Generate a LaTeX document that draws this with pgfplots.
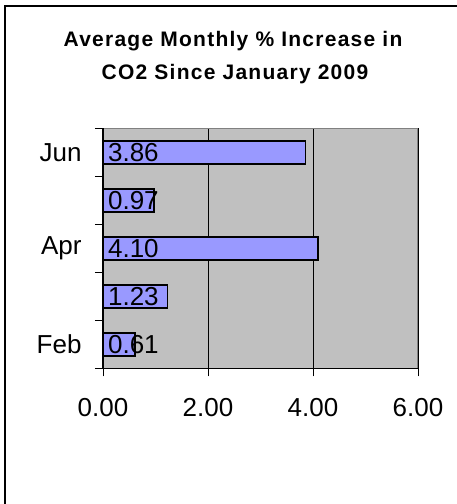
\documentclass[border=0pt]{standalone}
\usepackage{pgfplots}
\pgfplotsset{compat=1.18}
\usepackage{fontspec}
\setmainfont{Liberation Sans}

\definecolor{barblue}{HTML}{9999FF}
\definecolor{plotgray}{HTML}{C0C0C0}
\definecolor{edgegray}{HTML}{808080}

\pgfplotstableread{
pos val
1 0.61
2 1.23
3 4.10
4 0.97
5 3.86
}\datatable

\begin{document}
\begin{tikzpicture}
	\useasboundingbox (0pt,0pt) rectangle (457pt,504pt);
	% outer chart frame (right and bottom edges fall outside the picture)
	\draw[line width=1.5pt] (5pt,0pt) -- (5pt,498pt) -- (457pt,498pt);
	\node[anchor=base, font=\fontsize{21}{25}\selectfont\bfseries\addfontfeature{LetterSpace=6}] at (233pt,457.3pt) {Average Monthly \% Increase in};
	\node[anchor=base, font=\fontsize{21}{25}\selectfont\bfseries\addfontfeature{LetterSpace=6}] at (235pt,424pt) {CO2 Since January 2009};
	\begin{axis}[
	at={(103pt,135.7pt)},
	anchor=south west,
	scale only axis,
	width=315pt,
	height=240pt,
	xmin=0, xmax=6,
	ymin=0.5, ymax=5.5,
	xtick={0,2,4,6},
	ytick={0.5,1.5,...,5.5},
	yticklabels={},
	extra y ticks={1,3,5},
	extra y tick labels={Feb,Apr,Jun},
	extra y tick style={major tick length=0pt, grid=none},
	tick align=outside,
	tick pos=left,
	major tick length=8pt,
	xmajorgrids,
	grid style={black, line width=0.8pt},
	axis line style={edgegray, line width=1pt},
	tick style={black, line width=0.8pt},
	axis background/.style={fill=plotgray},
	ticklabel style={font=\fontsize{26}{30}\selectfont},
	/pgf/number format/assume math mode=true,
	xticklabel={\pgfmathprintnumber[fixed,fixed zerofill,precision=2]{\tick}},
	xticklabel style={yshift=-19pt},
	yticklabel style={xshift=-18pt},
	clip=false,
	]
	\addplot[xbar, bar width=23pt, fill=barblue, draw=black, line width=1.5pt,
		point meta=x,
		visualization depends on={rawx \as \rawx},
		nodes near coords={\pgfmathprintnumber[fixed,fixed zerofill,precision=2]{\pgfplotspointmeta}},
		every node near coord/.append style={anchor=west, xshift={-\rawx*52.5+1}, font=\fontsize{26}{30}\selectfont, black},
	] table[x=val, y=pos] {\datatable};
	\draw[black, line width=1.2pt] (rel axis cs:0,1) -- (rel axis cs:0,0) -- (rel axis cs:1,0);
	\end{axis}
\end{tikzpicture}
\end{document}
